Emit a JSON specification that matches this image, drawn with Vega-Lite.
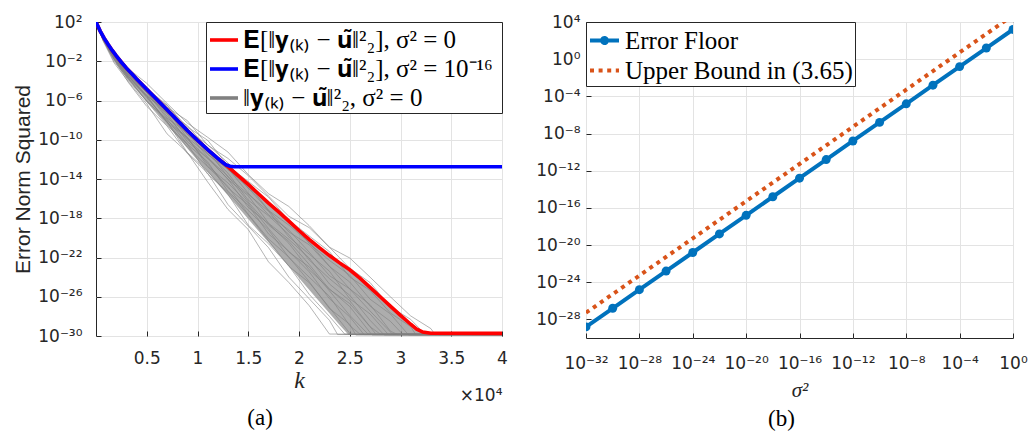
{
  "$schema": "https://vega.github.io/schema/vega-lite/v6.json",
  "background": "white",
  "padding": {"left": 12, "top": 12, "right": 0, "bottom": 4},
  "spacing": 27,
  "datasets": {
    "mean0": [
      {"k": 0, "err": 100}, {"k": 400, "err": 12.6}, {"k": 800, "err": 2.24}, {"k": 1200, "err": 0.5},
      {"k": 1600, "err": 0.126}, {"k": 2000, "err": 0.0355}, {"k": 2500, "err": 7.94e-3}, {"k": 3000, "err": 2.0e-3},
      {"k": 3500, "err": 5.62e-4}, {"k": 4000, "err": 1.58e-4}, {"k": 5000, "err": 1.41e-5}, {"k": 6000, "err": 1.26e-6},
      {"k": 7000, "err": 1.12e-7}, {"k": 8000, "err": 1e-8}, {"k": 9000, "err": 8.91e-10}, {"k": 10000, "err": 8.91e-11},
      {"k": 11000, "err": 1e-11}, {"k": 12000, "err": 1.26e-12}, {"k": 13000, "err": 1.78e-13}, {"k": 14000, "err": 2.24e-14},
      {"k": 15000, "err": 2.82e-15}, {"k": 16000, "err": 3.16e-16}, {"k": 17000, "err": 3.55e-17}, {"k": 18000, "err": 4.47e-18},
      {"k": 19000, "err": 5.01e-19}, {"k": 20000, "err": 5.62e-20}, {"k": 21000, "err": 7.08e-21}, {"k": 22000, "err": 1e-21},
      {"k": 23000, "err": 1.58e-22}, {"k": 24000, "err": 2.82e-23}, {"k": 25000, "err": 5.62e-24}, {"k": 26000, "err": 7.94e-25},
      {"k": 27000, "err": 8.91e-26}, {"k": 28000, "err": 1e-26}, {"k": 29000, "err": 1.12e-27}, {"k": 30000, "err": 1.26e-28},
      {"k": 31000, "err": 1.58e-29}, {"k": 31600, "err": 5.01e-30}, {"k": 32200, "err": 2.51e-30}, {"k": 33000, "err": 1.91e-30},
      {"k": 40000, "err": 1.86e-30}
    ],
    "mean16": [
      {"k": 0, "err": 100}, {"k": 400, "err": 12.6}, {"k": 800, "err": 2.24}, {"k": 1200, "err": 0.5},
      {"k": 1600, "err": 0.126}, {"k": 2000, "err": 0.0355}, {"k": 2500, "err": 7.94e-3}, {"k": 3000, "err": 2.0e-3},
      {"k": 3500, "err": 5.62e-4}, {"k": 4000, "err": 1.58e-4}, {"k": 5000, "err": 1.41e-5}, {"k": 6000, "err": 1.26e-6},
      {"k": 7000, "err": 1.12e-7}, {"k": 8000, "err": 1e-8}, {"k": 9000, "err": 8.91e-10}, {"k": 10000, "err": 8.91e-11},
      {"k": 11000, "err": 1e-11}, {"k": 12000, "err": 1.26e-12}, {"k": 12400, "err": 5.62e-13}, {"k": 12800, "err": 2.82e-13},
      {"k": 13200, "err": 2.0e-13}, {"k": 13600, "err": 1.78e-13}, {"k": 40000, "err": 1.78e-13}
    ],
    "band": [
      {"k": 0, "lo": 100, "hi": 100}, {"k": 1000, "lo": 0.355, "hi": 1.12}, {"k": 2000, "lo": 6.03e-3, "hi": 3.55e-2},
      {"k": 3000, "lo": 2.04e-4, "hi": 2.0e-3}, {"k": 4000, "lo": 1.32e-5, "hi": 1.58e-4}, {"k": 6000, "lo": 5.25e-8, "hi": 1.26e-6},
      {"k": 8000, "lo": 2.09e-10, "hi": 1e-8}, {"k": 10000, "lo": 8.32e-13, "hi": 8.91e-11}, {"k": 12000, "lo": 3.31e-15, "hi": 1.12e-12},
      {"k": 14000, "lo": 1.32e-17, "hi": 2.0e-14}, {"k": 16000, "lo": 5.25e-20, "hi": 2.82e-16}, {"k": 18000, "lo": 2.09e-22, "hi": 3.98e-18},
      {"k": 20000, "lo": 8.32e-25, "hi": 5.01e-20}, {"k": 22000, "lo": 3.31e-27, "hi": 8.91e-22}, {"k": 24000, "lo": 1.32e-29, "hi": 2.51e-23},
      {"k": 24900, "lo": 1.26e-30, "hi": 4.47e-24}, {"k": 26000, "lo": 1.26e-30, "hi": 7.08e-25}, {"k": 28000, "lo": 1.26e-30, "hi": 8.91e-27},
      {"k": 30000, "lo": 1.26e-30, "hi": 1.12e-28}, {"k": 31000, "lo": 1.26e-30, "hi": 1.41e-29}, {"k": 32000, "lo": 1.26e-30, "hi": 2.51e-30},
      {"k": 33000, "lo": 1.26e-30, "hi": 1.41e-30}
    ],
    "runs": [
      {"run": 1, "k": 0, "err": 100}, {"run": 1, "k": 700, "err": 1.17}, {"run": 1, "k": 1800, "err": 6.31e-3}, {"run": 1, "k": 3200, "err": 7.94e-5},
      {"run": 1, "k": 5000, "err": 4.47e-7}, {"run": 1, "k": 7000, "err": 3.98e-10}, {"run": 1, "k": 9000, "err": 5.01e-12}, {"run": 1, "k": 11000, "err": 5.01e-15},
      {"run": 1, "k": 13000, "err": 7.94e-18}, {"run": 1, "k": 15000, "err": 7.08e-20}, {"run": 1, "k": 17000, "err": 3.55e-23}, {"run": 1, "k": 19000, "err": 2.82e-25},
      {"run": 1, "k": 21000, "err": 1.26e-27}, {"run": 1, "k": 23000, "err": 1.58e-30}, {"run": 1, "k": 40000, "err": 1.41e-30},

      {"run": 2, "k": 0, "err": 100}, {"run": 2, "k": 700, "err": 1.32}, {"run": 2, "k": 1800, "err": 1.29e-2}, {"run": 2, "k": 3200, "err": 6.6e-5},
      {"run": 2, "k": 5000, "err": 2.51e-7}, {"run": 2, "k": 7000, "err": 2.51e-9}, {"run": 2, "k": 9000, "err": 3.98e-12}, {"run": 2, "k": 11000, "err": 3.98e-14},
      {"run": 2, "k": 13000, "err": 2.51e-17}, {"run": 2, "k": 15000, "err": 1.58e-19}, {"run": 2, "k": 17000, "err": 1e-21}, {"run": 2, "k": 19000, "err": 1e-24},
      {"run": 2, "k": 21000, "err": 6.31e-27}, {"run": 2, "k": 23000, "err": 3.98e-29}, {"run": 2, "k": 23800, "err": 1.41e-30}, {"run": 2, "k": 40000, "err": 1.26e-30},

      {"run": 3, "k": 0, "err": 100}, {"run": 3, "k": 700, "err": 1.48}, {"run": 3, "k": 1800, "err": 8.91e-3}, {"run": 3, "k": 3200, "err": 1.55e-4},
      {"run": 3, "k": 5000, "err": 8.91e-7}, {"run": 3, "k": 7000, "err": 7.08e-9}, {"run": 3, "k": 9000, "err": 5.01e-12}, {"run": 3, "k": 11000, "err": 6.31e-14},
      {"run": 3, "k": 13000, "err": 2.82e-16}, {"run": 3, "k": 15000, "err": 2.0e-19}, {"run": 3, "k": 17000, "err": 2.51e-21}, {"run": 3, "k": 19000, "err": 1.41e-23},
      {"run": 3, "k": 21000, "err": 1.78e-26}, {"run": 3, "k": 23000, "err": 1e-28}, {"run": 3, "k": 24500, "err": 1.58e-30}, {"run": 3, "k": 40000, "err": 1.58e-30},

      {"run": 4, "k": 0, "err": 100}, {"run": 4, "k": 700, "err": 1.58}, {"run": 4, "k": 1800, "err": 1.66e-2}, {"run": 4, "k": 3200, "err": 1.07e-4},
      {"run": 4, "k": 5000, "err": 7.94e-7}, {"run": 4, "k": 7000, "err": 2.82e-9}, {"run": 4, "k": 9000, "err": 3.55e-11}, {"run": 4, "k": 11000, "err": 3.16e-14},
      {"run": 4, "k": 13000, "err": 4.47e-16}, {"run": 4, "k": 15000, "err": 2.24e-18}, {"run": 4, "k": 17000, "err": 5.01e-21}, {"run": 4, "k": 19000, "err": 1.26e-23},
      {"run": 4, "k": 21000, "err": 2.82e-25}, {"run": 4, "k": 23000, "err": 7.94e-28}, {"run": 4, "k": 25100, "err": 1.41e-30}, {"run": 4, "k": 40000, "err": 1.41e-30},

      {"run": 5, "k": 0, "err": 100}, {"run": 5, "k": 700, "err": 1.7}, {"run": 5, "k": 1800, "err": 1.7e-2}, {"run": 5, "k": 3200, "err": 2.04e-4},
      {"run": 5, "k": 5000, "err": 2.51e-6}, {"run": 5, "k": 7000, "err": 6.31e-9}, {"run": 5, "k": 9000, "err": 1.78e-11}, {"run": 5, "k": 11000, "err": 1.78e-13},
      {"run": 5, "k": 13000, "err": 1.78e-15}, {"run": 5, "k": 15000, "err": 2.51e-18}, {"run": 5, "k": 17000, "err": 7.94e-21}, {"run": 5, "k": 19000, "err": 1.12e-22},
      {"run": 5, "k": 21000, "err": 3.55e-25}, {"run": 5, "k": 23000, "err": 6.31e-28}, {"run": 5, "k": 25000, "err": 1.58e-29}, {"run": 5, "k": 25600, "err": 1.26e-30},
      {"run": 5, "k": 40000, "err": 1.26e-30},

      {"run": 6, "k": 0, "err": 100}, {"run": 6, "k": 700, "err": 1.78}, {"run": 6, "k": 1800, "err": 1.48e-2}, {"run": 6, "k": 3200, "err": 1.86e-4},
      {"run": 6, "k": 5000, "err": 7.94e-7}, {"run": 6, "k": 7000, "err": 1.26e-8}, {"run": 6, "k": 9000, "err": 3.55e-11}, {"run": 6, "k": 11000, "err": 5.62e-13},
      {"run": 6, "k": 13000, "err": 5.62e-16}, {"run": 6, "k": 15000, "err": 6.31e-18}, {"run": 6, "k": 17000, "err": 6.31e-20}, {"run": 6, "k": 19000, "err": 1e-22},
      {"run": 6, "k": 21000, "err": 1e-24}, {"run": 6, "k": 23000, "err": 1.12e-26}, {"run": 6, "k": 25000, "err": 1.12e-29}, {"run": 6, "k": 26000, "err": 1.58e-30},
      {"run": 6, "k": 40000, "err": 1.58e-30},

      {"run": 7, "k": 0, "err": 100}, {"run": 7, "k": 700, "err": 1.86}, {"run": 7, "k": 1800, "err": 2.63e-2}, {"run": 7, "k": 3200, "err": 1.95e-4},
      {"run": 7, "k": 5000, "err": 3.16e-6}, {"run": 7, "k": 7000, "err": 5.62e-9}, {"run": 7, "k": 9000, "err": 1.58e-10}, {"run": 7, "k": 11000, "err": 3.55e-13},
      {"run": 7, "k": 13000, "err": 1.26e-15}, {"run": 7, "k": 15000, "err": 2.24e-17}, {"run": 7, "k": 17000, "err": 2.51e-20}, {"run": 7, "k": 19000, "err": 4.47e-22},
      {"run": 7, "k": 21000, "err": 3.55e-24}, {"run": 7, "k": 23000, "err": 6.31e-27}, {"run": 7, "k": 25000, "err": 8.91e-29}, {"run": 7, "k": 26400, "err": 1.41e-30},
      {"run": 7, "k": 40000, "err": 1.41e-30},

      {"run": 8, "k": 0, "err": 100}, {"run": 8, "k": 700, "err": 1.95}, {"run": 8, "k": 1800, "err": 2.29e-2}, {"run": 8, "k": 3200, "err": 3.16e-4},
      {"run": 8, "k": 5000, "err": 2.0e-6}, {"run": 8, "k": 7000, "err": 8.91e-9}, {"run": 8, "k": 9000, "err": 1.78e-10}, {"run": 8, "k": 11000, "err": 2.0e-13},
      {"run": 8, "k": 13000, "err": 3.98e-15}, {"run": 8, "k": 15000, "err": 3.16e-17}, {"run": 8, "k": 17000, "err": 8.91e-20}, {"run": 8, "k": 19000, "err": 3.55e-22},
      {"run": 8, "k": 21000, "err": 1.12e-23}, {"run": 8, "k": 23000, "err": 3.98e-26}, {"run": 8, "k": 25000, "err": 1.26e-28}, {"run": 8, "k": 26800, "err": 1.58e-30},
      {"run": 8, "k": 40000, "err": 1.58e-30},

      {"run": 9, "k": 0, "err": 100}, {"run": 9, "k": 700, "err": 2.04}, {"run": 9, "k": 1800, "err": 2.0e-2}, {"run": 9, "k": 3200, "err": 2.88e-4},
      {"run": 9, "k": 5000, "err": 3.55e-6}, {"run": 9, "k": 7000, "err": 4.47e-8}, {"run": 9, "k": 9000, "err": 6.31e-11}, {"run": 9, "k": 11000, "err": 1.26e-12},
      {"run": 9, "k": 13000, "err": 1e-14}, {"run": 9, "k": 15000, "err": 1.26e-17}, {"run": 9, "k": 17000, "err": 2.82e-19}, {"run": 9, "k": 19000, "err": 2.82e-21},
      {"run": 9, "k": 21000, "err": 5.62e-24}, {"run": 9, "k": 23000, "err": 6.31e-26}, {"run": 9, "k": 25000, "err": 1e-27}, {"run": 9, "k": 27200, "err": 1.26e-30},
      {"run": 9, "k": 40000, "err": 1.26e-30},

      {"run": 10, "k": 0, "err": 100}, {"run": 10, "k": 700, "err": 2.14}, {"run": 10, "k": 1800, "err": 3.09e-2}, {"run": 10, "k": 3200, "err": 2.63e-4},
      {"run": 10, "k": 5000, "err": 7.08e-6}, {"run": 10, "k": 7000, "err": 2.51e-8}, {"run": 10, "k": 9000, "err": 1.12e-10}, {"run": 10, "k": 11000, "err": 1.41e-12},
      {"run": 10, "k": 13000, "err": 2.0e-14}, {"run": 10, "k": 15000, "err": 4.47e-17}, {"run": 10, "k": 17000, "err": 2.0e-19}, {"run": 10, "k": 19000, "err": 4.47e-21},
      {"run": 10, "k": 21000, "err": 2.0e-23}, {"run": 10, "k": 23000, "err": 5.62e-26}, {"run": 10, "k": 25000, "err": 2.0e-27}, {"run": 10, "k": 27000, "err": 8.91e-30},
      {"run": 10, "k": 27600, "err": 1.41e-30}, {"run": 10, "k": 40000, "err": 1.41e-30},

      {"run": 11, "k": 0, "err": 100}, {"run": 11, "k": 700, "err": 2.24}, {"run": 11, "k": 1800, "err": 3.02e-2}, {"run": 11, "k": 3200, "err": 4.79e-4},
      {"run": 11, "k": 5000, "err": 6.31e-6}, {"run": 11, "k": 7000, "err": 1.58e-8}, {"run": 11, "k": 9000, "err": 5.62e-10}, {"run": 11, "k": 11000, "err": 1.78e-12},
      {"run": 11, "k": 13000, "err": 8.91e-15}, {"run": 11, "k": 15000, "err": 2.0e-16}, {"run": 11, "k": 17000, "err": 3.16e-19}, {"run": 11, "k": 19000, "err": 7.08e-21},
      {"run": 11, "k": 21000, "err": 8.91e-23}, {"run": 11, "k": 23000, "err": 2.0e-25}, {"run": 11, "k": 25000, "err": 3.98e-27}, {"run": 11, "k": 27000, "err": 8.91e-30},
      {"run": 11, "k": 28000, "err": 1.58e-30}, {"run": 11, "k": 40000, "err": 1.58e-30},

      {"run": 12, "k": 0, "err": 100}, {"run": 12, "k": 700, "err": 2.34}, {"run": 12, "k": 1800, "err": 2.63e-2}, {"run": 12, "k": 3200, "err": 4.37e-4},
      {"run": 12, "k": 5000, "err": 6.31e-6}, {"run": 12, "k": 7000, "err": 1e-7}, {"run": 12, "k": 9000, "err": 1.58e-10}, {"run": 12, "k": 11000, "err": 3.98e-12},
      {"run": 12, "k": 13000, "err": 3.98e-14}, {"run": 12, "k": 15000, "err": 7.08e-17}, {"run": 12, "k": 17000, "err": 1.78e-18}, {"run": 12, "k": 19000, "err": 2.24e-20},
      {"run": 12, "k": 21000, "err": 5.62e-23}, {"run": 12, "k": 23000, "err": 7.08e-25}, {"run": 12, "k": 25000, "err": 1.41e-26}, {"run": 12, "k": 27000, "err": 3.98e-29},
      {"run": 12, "k": 28400, "err": 1.26e-30}, {"run": 12, "k": 40000, "err": 1.26e-30},

      {"run": 13, "k": 0, "err": 100}, {"run": 13, "k": 700, "err": 2.45}, {"run": 13, "k": 1800, "err": 3.55e-2}, {"run": 13, "k": 3200, "err": 3.89e-4},
      {"run": 13, "k": 5000, "err": 2.82e-6}, {"run": 13, "k": 7000, "err": 7.94e-8}, {"run": 13, "k": 9000, "err": 3.55e-10}, {"run": 13, "k": 11000, "err": 8.91e-12},
      {"run": 13, "k": 13000, "err": 1.58e-14}, {"run": 13, "k": 15000, "err": 2.82e-16}, {"run": 13, "k": 17000, "err": 5.01e-18}, {"run": 13, "k": 19000, "err": 1.26e-20},
      {"run": 13, "k": 21000, "err": 2.24e-22}, {"run": 13, "k": 23000, "err": 3.98e-24}, {"run": 13, "k": 25000, "err": 6.31e-27}, {"run": 13, "k": 27000, "err": 1.78e-28},
      {"run": 13, "k": 28800, "err": 1.41e-30}, {"run": 13, "k": 40000, "err": 1.41e-30},

      {"run": 14, "k": 0, "err": 100}, {"run": 14, "k": 700, "err": 2.57}, {"run": 14, "k": 1800, "err": 4.9e-2}, {"run": 14, "k": 3200, "err": 5.62e-4},
      {"run": 14, "k": 5000, "err": 1.41e-5}, {"run": 14, "k": 7000, "err": 6.31e-8}, {"run": 14, "k": 9000, "err": 3.55e-10}, {"run": 14, "k": 11000, "err": 7.08e-12},
      {"run": 14, "k": 13000, "err": 1.26e-13}, {"run": 14, "k": 15000, "err": 3.55e-16}, {"run": 14, "k": 17000, "err": 2.24e-18}, {"run": 14, "k": 19000, "err": 6.31e-20},
      {"run": 14, "k": 21000, "err": 3.55e-22}, {"run": 14, "k": 23000, "err": 1.41e-24}, {"run": 14, "k": 25000, "err": 6.31e-26}, {"run": 14, "k": 27000, "err": 3.55e-28},
      {"run": 14, "k": 29200, "err": 1.58e-30}, {"run": 14, "k": 40000, "err": 1.58e-30},

      {"run": 15, "k": 0, "err": 100}, {"run": 15, "k": 700, "err": 2.75}, {"run": 15, "k": 1800, "err": 4.37e-2}, {"run": 15, "k": 3200, "err": 8.13e-4},
      {"run": 15, "k": 5000, "err": 6.31e-6}, {"run": 15, "k": 7000, "err": 5.01e-8}, {"run": 15, "k": 9000, "err": 1.58e-9}, {"run": 15, "k": 11000, "err": 3.16e-12},
      {"run": 15, "k": 13000, "err": 1e-13}, {"run": 15, "k": 15000, "err": 1.26e-15}, {"run": 15, "k": 17000, "err": 6.31e-18}, {"run": 15, "k": 19000, "err": 3.98e-20},
      {"run": 15, "k": 21000, "err": 2.0e-21}, {"run": 15, "k": 23000, "err": 1.26e-23}, {"run": 15, "k": 25000, "err": 6.31e-26}, {"run": 15, "k": 27000, "err": 1.58e-27},
      {"run": 15, "k": 29000, "err": 3.16e-30}, {"run": 15, "k": 29700, "err": 1.41e-30}, {"run": 15, "k": 40000, "err": 1.41e-30},

      {"run": 16, "k": 0, "err": 100}, {"run": 16, "k": 700, "err": 2.88}, {"run": 16, "k": 1800, "err": 3.8e-2}, {"run": 16, "k": 3200, "err": 7.59e-4},
      {"run": 16, "k": 5000, "err": 1.58e-5}, {"run": 16, "k": 7000, "err": 5.62e-8}, {"run": 16, "k": 9000, "err": 2.82e-9}, {"run": 16, "k": 11000, "err": 1.26e-11},
      {"run": 16, "k": 13000, "err": 8.91e-14}, {"run": 16, "k": 15000, "err": 2.82e-15}, {"run": 16, "k": 17000, "err": 6.31e-18}, {"run": 16, "k": 19000, "err": 2.0e-19},
      {"run": 16, "k": 21000, "err": 3.55e-21}, {"run": 16, "k": 23000, "err": 1.26e-23}, {"run": 16, "k": 25000, "err": 3.16e-25}, {"run": 16, "k": 27000, "err": 1.12e-27},
      {"run": 16, "k": 29000, "err": 3.16e-29}, {"run": 16, "k": 30200, "err": 1.58e-30}, {"run": 16, "k": 40000, "err": 1.58e-30},

      {"run": 17, "k": 0, "err": 100}, {"run": 17, "k": 700, "err": 3.09}, {"run": 17, "k": 1800, "err": 5.37e-2}, {"run": 17, "k": 3200, "err": 7.94e-4},
      {"run": 17, "k": 5000, "err": 1.58e-5}, {"run": 17, "k": 7000, "err": 3.55e-7}, {"run": 17, "k": 9000, "err": 8.91e-10}, {"run": 17, "k": 11000, "err": 3.16e-11},
      {"run": 17, "k": 13000, "err": 4.47e-13}, {"run": 17, "k": 15000, "err": 1.12e-15}, {"run": 17, "k": 17000, "err": 3.98e-17}, {"run": 17, "k": 19000, "err": 7.94e-19},
      {"run": 17, "k": 21000, "err": 2.82e-21}, {"run": 17, "k": 23000, "err": 5.01e-23}, {"run": 17, "k": 25000, "err": 1.58e-24}, {"run": 17, "k": 27000, "err": 5.62e-27},
      {"run": 17, "k": 29000, "err": 1.78e-28}, {"run": 17, "k": 30800, "err": 1.26e-30}, {"run": 17, "k": 40000, "err": 1.26e-30},

      {"run": 18, "k": 0, "err": 100}, {"run": 18, "k": 700, "err": 3.31}, {"run": 18, "k": 1800, "err": 7.76e-2}, {"run": 18, "k": 3200, "err": 1.07e-3},
      {"run": 18, "k": 5000, "err": 7.94e-6}, {"run": 18, "k": 7000, "err": 3.16e-7}, {"run": 18, "k": 9000, "err": 2.0e-9}, {"run": 18, "k": 11000, "err": 8.91e-11},
      {"run": 18, "k": 13000, "err": 2.24e-13}, {"run": 18, "k": 15000, "err": 5.62e-15}, {"run": 18, "k": 17000, "err": 1.41e-16}, {"run": 18, "k": 19000, "err": 6.31e-19},
      {"run": 18, "k": 21000, "err": 1.58e-20}, {"run": 18, "k": 23000, "err": 3.98e-22}, {"run": 18, "k": 25000, "err": 1e-24}, {"run": 18, "k": 27000, "err": 4.47e-26},
      {"run": 18, "k": 29000, "err": 2.24e-28}, {"run": 18, "k": 31000, "err": 8.91e-30}, {"run": 18, "k": 31500, "err": 1.41e-30}, {"run": 18, "k": 40000, "err": 1.41e-30},

      {"run": 19, "k": 0, "err": 100}, {"run": 19, "k": 700, "err": 3.63}, {"run": 19, "k": 1800, "err": 7.24e-2}, {"run": 19, "k": 3200, "err": 1.7e-3},
      {"run": 19, "k": 5000, "err": 1.78e-5}, {"run": 19, "k": 7000, "err": 2.0e-7}, {"run": 19, "k": 9000, "err": 8.91e-9}, {"run": 19, "k": 11000, "err": 2.82e-11},
      {"run": 19, "k": 13000, "err": 1.26e-12}, {"run": 19, "k": 15000, "err": 2.24e-14}, {"run": 19, "k": 17000, "err": 1.78e-16}, {"run": 19, "k": 19000, "err": 1.58e-18},
      {"run": 19, "k": 21000, "err": 1.12e-19}, {"run": 19, "k": 23000, "err": 1.12e-21}, {"run": 19, "k": 25000, "err": 7.94e-24}, {"run": 19, "k": 27000, "err": 2.82e-25},
      {"run": 19, "k": 29000, "err": 8.91e-28}, {"run": 19, "k": 31000, "err": 5.01e-29}, {"run": 19, "k": 32400, "err": 1.58e-30}, {"run": 19, "k": 40000, "err": 1.58e-30},

      {"run": 20, "k": 0, "err": 100}, {"run": 20, "k": 700, "err": 3.89}, {"run": 20, "k": 1800, "err": 8.51e-2}, {"run": 20, "k": 3200, "err": 1.7e-3},
      {"run": 20, "k": 5000, "err": 5.62e-5}, {"run": 20, "k": 7000, "err": 5.01e-7}, {"run": 20, "k": 9000, "err": 5.01e-9}, {"run": 20, "k": 11000, "err": 1.78e-10},
      {"run": 20, "k": 13000, "err": 5.62e-12}, {"run": 20, "k": 15000, "err": 2.82e-14}, {"run": 20, "k": 17000, "err": 3.16e-16}, {"run": 20, "k": 19000, "err": 1.58e-17},
      {"run": 20, "k": 21000, "err": 1.78e-19}, {"run": 20, "k": 23000, "err": 1.12e-21}, {"run": 20, "k": 25000, "err": 8.91e-23}, {"run": 20, "k": 27000, "err": 1e-24},
      {"run": 20, "k": 29000, "err": 1e-26}, {"run": 20, "k": 31000, "err": 1.12e-28}, {"run": 20, "k": 33000, "err": 5.62e-30}, {"run": 20, "k": 33400, "err": 1.41e-30},
      {"run": 20, "k": 40000, "err": 1.41e-30}
    ],
    "sweep": [
      {"s2": 1e-32, "floor": 1.58e-29, "bound": 5.25e-28}, {"s2": 1e-30, "floor": 1.58e-27, "bound": 5.25e-26},
      {"s2": 1e-28, "floor": 1.58e-25, "bound": 5.25e-24}, {"s2": 1e-26, "floor": 1.58e-23, "bound": 5.25e-22},
      {"s2": 1e-24, "floor": 1.58e-21, "bound": 5.25e-20}, {"s2": 1e-22, "floor": 1.58e-19, "bound": 5.25e-18},
      {"s2": 1e-20, "floor": 1.58e-17, "bound": 5.25e-16}, {"s2": 1e-18, "floor": 1.58e-15, "bound": 5.25e-14},
      {"s2": 1e-16, "floor": 1.58e-13, "bound": 5.25e-12}, {"s2": 1e-14, "floor": 1.58e-11, "bound": 5.25e-10},
      {"s2": 1e-12, "floor": 1.58e-9, "bound": 5.25e-8}, {"s2": 1e-10, "floor": 1.58e-7, "bound": 5.25e-6},
      {"s2": 1e-8, "floor": 1.58e-5, "bound": 5.25e-4}, {"s2": 1e-6, "floor": 1.58e-3, "bound": 5.25e-2},
      {"s2": 1e-4, "floor": 0.158, "bound": 5.25}, {"s2": 1e-2, "floor": 15.8, "bound": 525},
      {"s2": 1, "floor": 1580, "bound": 52500}
    ]
  },
  "hconcat": [
    {
      "width": 406,
      "height": 314,
      "title": {"text": "(a)", "orient": "bottom", "frame": "bounds", "anchor": "middle", "offset": 4},
      "resolve": {"axis": {"x": "independent"}},
      "layer": [
        {
          "data": {"name": "band"},
          "mark": {"type": "area", "color": "#8a8a8a", "opacity": 0.7, "clip": true},
          "encoding": {
            "x": {
              "field": "k", "type": "quantitative",
              "scale": {"domain": [0, 40000], "nice": false, "zero": false},
              "axis": {
                "values": [5000, 10000, 15000, 20000, 25000, 30000, 35000, 40000],
                "labelExpr": "'' + datum.value / 10000",
                "title": "k", "titleFont": "Liberation Serif", "titleFontStyle": "italic",
                "titleFontSize": 24, "titlePadding": 2, "labelPadding": 19
              }
            },
            "y": {
              "field": "lo", "type": "quantitative",
              "scale": {"type": "log", "domain": [1e-30, 100], "nice": false},
              "axis": {
                "values": [1e-30, 1e-26, 1e-22, 1e-18, 1e-14, 1e-10, 1e-6, 1e-2, 100],
                "title": "Error Norm Squared", "titleFont": "Liberation Sans", "titleFontSize": 21,
                "titlePadding": 4, "labelPadding": 19
              }
            },
            "y2": {"field": "hi"}
          }
        },
        {
          "data": {"name": "runs"},
          "mark": {"type": "line", "strokeWidth": 0.7, "opacity": 0.85, "clip": true},
          "encoding": {
            "x": {
              "field": "k", "type": "quantitative",
              "axis": {
                "title": "×10⁴", "orient": "bottom", "labels": false, "ticks": false, "domain": false, "grid": false,
                "titleAnchor": "end", "titleAlign": "right", "titleFont": "DejaVu Sans", "titleFontSize": 17,
                "titlePadding": 0, "offset": 51
              }
            },
            "y": {"field": "err", "type": "quantitative", "title": "Error Norm Squared"},
            "detail": {"field": "run"},
            "color": {"datum": "‖𝐲₍ₖ₎ − 𝐮̃‖²₂,  σ² = 0"}
          }
        },
        {
          "data": {"name": "mean0"},
          "mark": {"type": "line", "strokeWidth": 3.6, "clip": true},
          "encoding": {
            "x": {"field": "k", "type": "quantitative", "axis": null},
            "y": {"field": "err", "type": "quantitative", "title": "Error Norm Squared"},
            "color": {
              "datum": "𝐄[‖𝐲₍ₖ₎ − 𝐮̃‖²₂],  σ² = 0",
              "scale": {
                "domain": ["𝐄[‖𝐲₍ₖ₎ − 𝐮̃‖²₂],  σ² = 0", "𝐄[‖𝐲₍ₖ₎ − 𝐮̃‖²₂],  σ² = 10⁻¹⁶", "‖𝐲₍ₖ₎ − 𝐮̃‖²₂,  σ² = 0"],
                "range": ["#ff0000", "#0000ff", "#808080"]
              },
              "legend": {
                "title": null, "orient": "top-right", "offset": 0,
                "fillColor": "white", "strokeColor": "#262626", "padding": 2,
                "labelFont": "Liberation Serif", "labelFontSize": 25, "labelLimit": 0,
                "symbolType": "stroke", "symbolSize": 784, "rowPadding": 0, "labelOffset": 3,
                "encode": {"symbols": {"update": {"strokeWidth": {"value": 3.6}, "opacity": {"value": 1}}}}
              }
            }
          }
        },
        {
          "data": {"name": "mean16"},
          "mark": {"type": "line", "strokeWidth": 3.6, "clip": true},
          "encoding": {
            "x": {"field": "k", "type": "quantitative", "axis": null},
            "y": {"field": "err", "type": "quantitative", "title": "Error Norm Squared"},
            "color": {"datum": "𝐄[‖𝐲₍ₖ₎ − 𝐮̃‖²₂],  σ² = 10⁻¹⁶"}
          }
        }
      ]
    },
    {
      "width": 427,
      "height": 316,
      "title": {"text": "(b)", "orient": "bottom", "frame": "bounds", "anchor": "middle", "offset": 8},
      "data": {"name": "sweep"},
      "layer": [
        {
          "mark": {"type": "line", "strokeWidth": 4, "strokeDash": [4, 4.6], "strokeCap": "butt", "clip": true},
          "encoding": {
            "x": {
              "field": "s2", "type": "quantitative",
              "scale": {"type": "log", "domain": [1e-32, 1], "nice": false},
              "axis": {
                "values": [1e-32, 1e-28, 1e-24, 1e-20, 1e-16, 1e-12, 1e-8, 1e-4, 1],
                "labelExpr": "'10' + replace(replace(replace(replace(replace(replace(replace(replace(replace(replace(replace('' + round(log(datum.value) / LN10), regexp('-', 'g'), '⁻'), regexp('0', 'g'), '⁰'), regexp('1', 'g'), '¹'), regexp('2', 'g'), '²'), regexp('3', 'g'), '³'), regexp('4', 'g'), '⁴'), regexp('5', 'g'), '⁵'), regexp('6', 'g'), '⁶'), regexp('7', 'g'), '⁷'), regexp('8', 'g'), '⁸'), regexp('9', 'g'), '⁹')",
                "title": "σ²", "titleFont": "Liberation Serif", "titleFontStyle": "italic",
                "titleFontSize": 21, "titlePadding": 8, "labelPadding": 22
              }
            },
            "y": {
              "field": "bound", "type": "quantitative",
              "scale": {"type": "log", "domain": [1e-30, 10000], "nice": false},
              "axis": {
                "values": [1e-28, 1e-24, 1e-20, 1e-16, 1e-12, 1e-8, 1e-4, 1, 10000],
                "title": null, "labelPadding": 11
              }
            },
            "color": {"datum": "Upper Bound in (3.65)\u2003"}
          }
        },
        {
          "mark": {"type": "line", "strokeWidth": 4, "clip": true},
          "encoding": {
            "x": {"field": "s2", "type": "quantitative"},
            "y": {"field": "floor", "type": "quantitative"},
            "color": {
              "datum": "Error Floor",
              "scale": {"domain": ["Error Floor", "Upper Bound in (3.65)\u2003"], "range": ["#0072BD", "#D95319"]},
              "legend": {
                "title": null, "orient": "top-left", "offset": 0,
                "fillColor": "white", "strokeColor": "#262626", "padding": 2,
                "labelFont": "Liberation Serif", "labelFontSize": 25, "labelLimit": 0,
                "symbolType": "stroke", "symbolSize": 841, "rowPadding": 0, "labelOffset": 4,
                "encode": {"symbols": {"update": {
                  "shape": {"signal": "datum.value === 'Error Floor' ? 'M-1,0L1,0M-0.17,0A0.17,0.17,0,1,0,0.17,0A0.17,0.17,0,1,0,-0.17,0Z' : 'stroke'"},
                  "fill": {"signal": "datum.value === 'Error Floor' ? '#0072BD' : 'transparent'"},
                  "strokeDash": {"signal": "datum.value === 'Error Floor' ? [1, 0] : [4, 4.6]"},
                  "strokeWidth": {"value": 4},
                  "opacity": {"value": 1}
                }}}
              }
            }
          }
        },
        {
          "mark": {"type": "point", "filled": true, "size": 80, "opacity": 1, "color": "#0072BD", "clip": true},
          "encoding": {
            "x": {"field": "s2", "type": "quantitative"},
            "y": {"field": "floor", "type": "quantitative"}
          }
        }
      ]
    }
  ],
  "resolve": {"scale": {"color": "independent", "x": "independent", "y": "independent"}, "legend": {"color": "independent"}},
  "config": {
    "view": {"stroke": "#262626", "strokeWidth": 1},
    "font": "Liberation Sans",
    "axis": {
      "labelFont": "DejaVu Sans", "labelFontSize": 17, "labelColor": "#262626", "labelOverlap": false, "labelFlush": false,
      "tickColor": "#262626", "tickSize": -5, "domain": false,
      "gridColor": "#e3e3e3", "gridWidth": 1, "grid": true,
      "titleFontWeight": "normal", "titleColor": "#262626"
    },
    "axisY": {
      "labelExpr": "'10' + replace(replace(replace(replace(replace(replace(replace(replace(replace(replace(replace('' + round(log(datum.value) / LN10), regexp('-', 'g'), '⁻'), regexp('0', 'g'), '⁰'), regexp('1', 'g'), '¹'), regexp('2', 'g'), '²'), regexp('3', 'g'), '³'), regexp('4', 'g'), '⁴'), regexp('5', 'g'), '⁵'), regexp('6', 'g'), '⁶'), regexp('7', 'g'), '⁷'), regexp('8', 'g'), '⁸'), regexp('9', 'g'), '⁹')"
    },
    "title": {"font": "Liberation Serif", "fontSize": 23, "fontWeight": "normal", "color": "#000000"},
    "legend": {"cornerRadius": 0, "strokeWidth": 1, "labelColor": "#000000"}
  }
}
